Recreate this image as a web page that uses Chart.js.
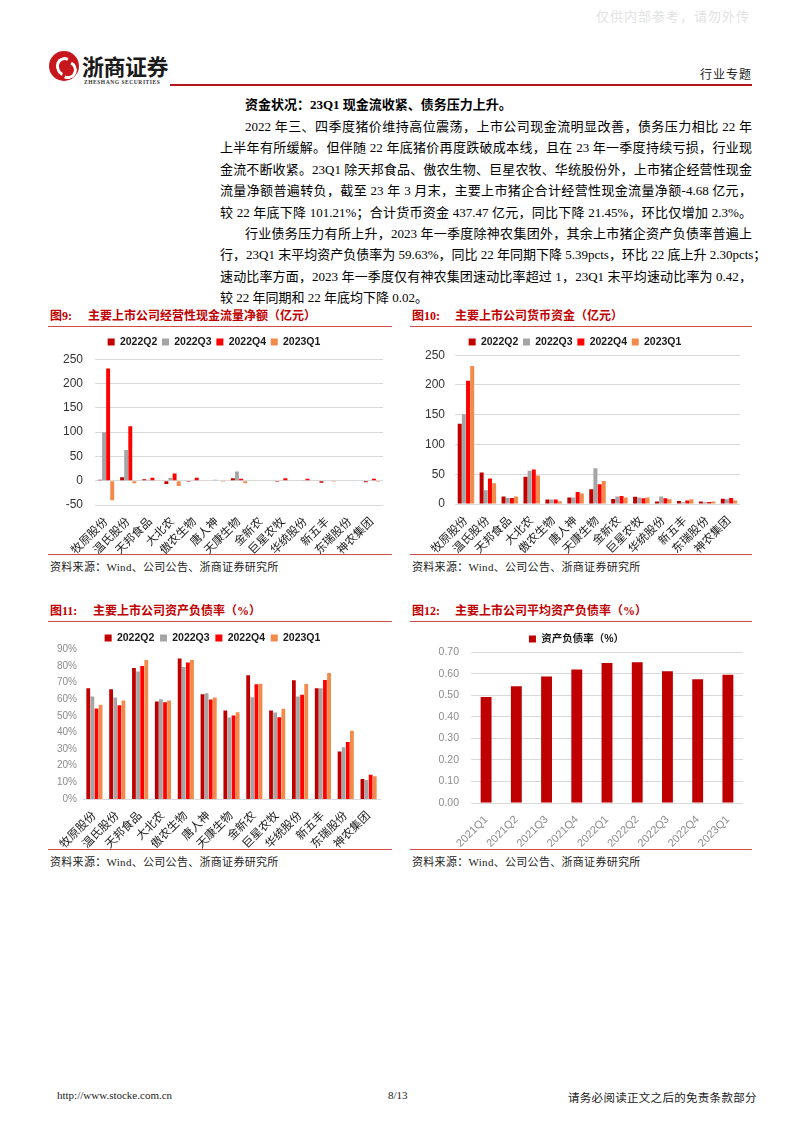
<!DOCTYPE html>
<html>
<head>
<meta charset="utf-8">
<script src="https://cdn.jsdelivr.net/npm/chart.js@4.4.0/dist/chart.umd.min.js"></script>
<style>
  body { margin: 0; background: #fff; }
  #page { position: relative; width: 802px; height: 1133px; overflow: hidden; background: #fff;
    font-family: "Liberation Serif", "Noto Sans CJK SC", serif; color: #000; }
  .abs { position: absolute; }
  .para { position: absolute; left: 220px; width: 532px; font-size: 13px; line-height: 21.4px; }
  .para div { white-space: nowrap; text-align: justify; text-align-last: justify; }
  .para div.last { text-align-last: left; }
  .para div.ind { padding-left: 25px; }
  .ftitle { position: absolute; font-size: 12px; font-weight: bold; color: #c00000; white-space: nowrap;
    font-family: "Liberation Serif", "Noto Sans CJK SC", serif; }
  .rline { position: absolute; height: 1px; background: #d24a4a; }
  .src { position: absolute; font-size: 11px; color: #222; white-space: nowrap; letter-spacing: 0.3px; }
  .box { position: absolute; }
</style>
</head>
<body>
<div id="page">
  <div class="abs" style="left:596px;top:6px;font-size:13px;color:#e2e2e2;letter-spacing:1px;">仅供内部参考，请勿外传</div>

  <!-- logo -->
  <div class="abs" style="left:49px;top:51px;width:30px;height:30px;border-radius:50%;background:#c8161d;"></div>
  <div class="abs" style="left:56px;top:57px;width:12px;height:14px;border:3px solid #fff;border-right-color:transparent;border-bottom-color:transparent;border-radius:50%;transform:rotate(-20deg);"></div>
  <div class="abs" style="left:59px;top:61px;width:12px;height:12px;border:3px solid #fff;border-left-color:transparent;border-top-color:transparent;border-radius:50%;transform:rotate(-20deg);"></div>
  <div class="abs" style="left:82px;top:49px;font-family:'Noto Sans CJK SC';font-weight:bold;font-size:22px;letter-spacing:-0.5px;color:#1a1a1a;">浙商证券</div>
  <div class="abs" style="left:84px;top:79px;font-family:'Liberation Serif';font-weight:bold;font-size:5.5px;letter-spacing:0.55px;color:#333;">ZHESHANG SECURITIES</div>
  <div class="abs" style="left:700px;top:65px;font-size:12px;color:#222;letter-spacing:1px;">行业专题</div>
  <div class="abs" style="left:170px;top:84px;width:582px;height:2px;background:#b8141b;"></div>

  <!-- text -->
  <div class="abs" style="left:245px;top:94px;font-size:13px;font-weight:bold;white-space:nowrap;">资金状况：23Q1 现金流收紧、债务压力上升。</div>
  <div class="para" style="top:116px;">
    <div class="ind">2022 年三、四季度猪价维持高位震荡，上市公司现金流明显改善，债务压力相比 22 年</div>
    <div>上半年有所缓解。但伴随 22 年底猪价再度跌破成本线，且在 23 年一季度持续亏损，行业现</div>
    <div>金流不断收紧。23Q1 除天邦食品、傲农生物、巨星农牧、华统股份外，上市猪企经营性现金</div>
    <div>流量净额普遍转负，截至 23 年 3 月末，主要上市猪企合计经营性现金流量净额-4.68 亿元，</div>
    <div>较 22 年底下降 101.21%；合计货币资金 437.47 亿元，同比下降 21.45%，环比仅增加 2.3%。</div>
    <div class="ind">行业债务压力有所上升，2023 年一季度除神农集团外，其余上市猪企资产负债率普遍上</div>
    <div>行，23Q1 末平均资产负债率为 59.63%，同比 22 年同期下降 5.39pcts，环比 22 底上升 2.30pcts；</div>
    <div>速动比率方面，2023 年一季度仅有神农集团速动比率超过 1，23Q1 末平均速动比率为 0.42，</div>
    <div class="last">较 22 年同期和 22 年底均下降 0.02。</div>
  </div>

  <!-- figure 9 -->
  <div class="ftitle" style="left:50px;top:306px;">图9:</div>
  <div class="ftitle" style="left:88px;top:306px;">主要上市公司经营性现金流量净额（亿元）</div>
  <div class="rline" style="left:48px;top:326px;width:344px;"></div>
  <div class="box" style="left:45px;top:332px;width:345px;height:222px;"><canvas id="c9"></canvas></div>
  <div class="rline" style="left:48px;top:554px;width:344px;"></div>
  <div class="src" style="left:50px;top:558px;">资料来源：Wind、公司公告、浙商证券研究所</div>

  <!-- figure 10 -->
  <div class="ftitle" style="left:412px;top:306px;">图10:</div>
  <div class="ftitle" style="left:455px;top:306px;">主要上市公司货币资金（亿元）</div>
  <div class="rline" style="left:410px;top:326px;width:342px;"></div>
  <div class="box" style="left:410px;top:332px;width:340px;height:222px;"><canvas id="c10"></canvas></div>
  <div class="rline" style="left:410px;top:554px;width:342px;"></div>
  <div class="src" style="left:412px;top:558px;">资料来源：Wind、公司公告、浙商证券研究所</div>

  <!-- figure 11 -->
  <div class="ftitle" style="left:50px;top:601px;">图11:</div>
  <div class="ftitle" style="left:93px;top:601px;">主要上市公司资产负债率（%）</div>
  <div class="rline" style="left:48px;top:621px;width:344px;"></div>
  <div class="box" style="left:45px;top:627px;width:345px;height:222px;"><canvas id="c11"></canvas></div>
  <div class="rline" style="left:48px;top:849px;width:344px;"></div>
  <div class="src" style="left:50px;top:853px;">资料来源：Wind、公司公告、浙商证券研究所</div>

  <!-- figure 12 -->
  <div class="ftitle" style="left:412px;top:601px;">图12:</div>
  <div class="ftitle" style="left:455px;top:601px;">主要上市公司平均资产负债率（%）</div>
  <div class="rline" style="left:410px;top:621px;width:342px;"></div>
  <div class="box" style="left:410px;top:627px;width:340px;height:222px;"><canvas id="c12"></canvas></div>
  <div class="rline" style="left:410px;top:849px;width:342px;"></div>
  <div class="src" style="left:412px;top:853px;">资料来源：Wind、公司公告、浙商证券研究所</div>

  <!-- footer -->
  <div class="abs" style="left:57px;top:1089px;font-size:11px;color:#222;">http://www.stocke.com.cn</div>
  <div class="abs" style="left:388px;top:1089px;font-size:11px;color:#222;">8/13</div>
  <div class="abs" style="left:568px;top:1089px;font-size:11.5px;color:#222;letter-spacing:0.3px;">请务必阅读正文之后的免责条款部分</div>
</div>

<script>
// 公司与季度
const companies = ['牧原股份', '温氏股份', '天邦食品', '大北农', '傲农生物', '唐人神', '天康生物',
  '金新农', '巨星农牧', '华统股份', '新五丰', '东瑞股份', '神农集团'];
const quarters = ['2022Q2', '2022Q3', '2022Q4', '2023Q1'];
const quarterColors = ['#c00000', '#a5a5a5', '#ff0000', '#f28a4a'];

// 图9 经营性现金流量净额（亿元）
const cash22Q2 = [2, 7, 3, -7, -2, 1, 5, 1, -2, -1, -4, -1, -3];
const cash22Q3 = [100, 63, 2, 6, 1, 2, 19, 1, -1, 0.5, -1, -1, -1];
const cash22Q4 = [231, 112, 6, 15, 6, 1, 4, 1, 5, 4, -1, -1, 4];
const cash23Q1 = [-40, -5, 1, -11, 1, -2, -5, -1, 1, 1, -2, -1, -2];

// 图10 货币资金（亿元）
const fund22Q2 = [135, 53, 12.5, 46, 7.4, 11, 25, 8.5, 12, 4, 5, 4, 9];
const fund22Q3 = [151, 23, 10, 56, 7.4, 11, 60, 12.5, 11, 12.5, 3, 3, 8];
const fund22Q4 = [207, 43, 10, 58, 7.4, 20, 33, 13.6, 9.7, 9.7, 5.7, 3.4, 10];
const fund23Q1 = [232, 35, 12.5, 48, 4.5, 17.6, 38.6, 11, 10.8, 8, 8, 4, 5.7];

// 图11 资产负债率（%）
const debt22Q2 = [66.5, 66, 78.7, 58.6, 84.5, 63, 53.2, 74.3, 53.2, 71.3, 66.5, 28.5, 12];
const debt22Q3 = [61.6, 61, 76.7, 60, 79.3, 63.5, 49, 61.2, 52, 61.6, 66.5, 31.1, 11.4];
const debt22Q4 = [54.4, 56.4, 80, 58.2, 82.1, 59.8, 50.2, 68.9, 49.2, 62.7, 71.5, 34.3, 14.5];
const debt23Q1 = [56.6, 59.2, 83.5, 59.2, 83.5, 61, 52.2, 69.3, 54.2, 69.1, 75.7, 41, 13.7];

// 图12 平均资产负债率
const avgQuarters = ['2021Q1', '2021Q2', '2021Q3', '2021Q4', '2022Q1', '2022Q2', '2022Q3', '2022Q4', '2023Q1'];
const avgDebt = [0.492, 0.542, 0.587, 0.620, 0.650, 0.653, 0.612, 0.575, 0.596];

const FONT = '"Liberation Sans", "Noto Sans CJK SC", sans-serif';

// 图例与绘图区之间留空
const legendGap = {
  id: 'legendGap',
  beforeLayout(chart, args, opts) {
    const lg = chart.legend;
    if (lg && !lg._gapPatched) {
      const fit = lg.fit;
      lg.fit = function () { fit.call(this); this.height += opts.gap || 0; };
      lg._gapPatched = true;
    }
  },
};

function groupChart(id, series, cfg) {
  const datasets = series.map((d, i) => ({
    label: quarters[i],
    data: d,
    backgroundColor: quarterColors[i],
    borderWidth: 0,
    categoryPercentage: cfg.cat,
    barPercentage: cfg.bar,
  }));
  return new Chart(document.getElementById(id), {
    type: 'bar',
    data: { labels: companies, datasets },
    plugins: [legendGap],
    options: {
      responsive: true,
      maintainAspectRatio: false,
      animation: false,
      layout: { padding: { left: 0, right: cfg.right, top: 0, bottom: 0 } },
      plugins: {
        legend: {
          labels: {
            boxWidth: 7, boxHeight: 7, padding: cfg.legendPad,
            color: '#1a1a1a', font: { family: FONT, size: 10.5, weight: 'bold' },
          },
        },
        legendGap: { gap: cfg.gap },
        tooltip: { enabled: false },
      },
      scales: {
        x: {
          grid: { display: false },
          border: cfg.xBorder ? { display: true, color: '#d9d9d9' } : { display: false },
          ticks: {
            color: '#1a1a1a', autoSkip: false, minRotation: 45, maxRotation: 45, padding: 2,
            font: { family: FONT, size: 11.5 },
          },
          afterFit: (s) => { s.height = cfg.xh; },
        },
        y: {
          min: cfg.min, max: cfg.max,
          grid: { display: cfg.grid, color: '#d9d9d9', drawTicks: false },
          border: { display: false },
          ticks: {
            stepSize: cfg.step, padding: cfg.tickPad, color: cfg.yColor,
            font: { family: FONT, size: cfg.ySize },
            callback: cfg.fmt,
          },
          afterFit: (s) => { s.width = cfg.yw; },
        },
      },
    },
  });
}

groupChart('c9', [cash22Q2, cash22Q3, cash22Q4, cash23Q1], {
  cat: 0.74, bar: 0.96, right: 7, legendPad: 4.75, gap: 2, xh: 49, yw: 50,
  min: -50, max: 250, step: 50, tickPad: 12, yColor: '#333', ySize: 12, grid: true,
  fmt: (v) => v,
});

groupChart('c10', [fund22Q2, fund22Q3, fund22Q4, fund23Q1], {
  cat: 0.76, bar: 0.96, right: 10, legendPad: 4.75, gap: -2, xh: 50, yw: 45,
  min: 0, max: 250, step: 50, tickPad: 10, yColor: '#333', ySize: 12, grid: true,
  fmt: (v) => v,
});

groupChart('c11', [debt22Q2, debt22Q3, debt22Q4, debt23Q1], {
  cat: 0.72, bar: 0.92, right: 10, legendPad: 5.75, gap: -4, xh: 50, yw: 38,
  min: 0, max: 90, step: 10, tickPad: 6, yColor: '#8c8c8c', ySize: 10, grid: false, xBorder: true,
  fmt: (v) => v + '%',
});

new Chart(document.getElementById('c12'), {
  type: 'bar',
  data: {
    labels: avgQuarters,
    datasets: [{
      label: '资产负债率（%）',
      data: avgDebt,
      backgroundColor: '#c00000',
      borderWidth: 0,
      categoryPercentage: 1,
      barPercentage: 0.36,
    }],
  },
  plugins: [legendGap],
  options: {
    responsive: true,
    maintainAspectRatio: false,
    animation: false,
    layout: { padding: { left: 0, right: 7, top: 0, bottom: 0 } },
    plugins: {
      legend: {
        labels: {
          boxWidth: 7, boxHeight: 7, padding: 6.75,
          color: '#1a1a1a', font: { family: FONT, size: 10.5, weight: 'bold' },
        },
      },
      legendGap: { gap: -2 },
      tooltip: { enabled: false },
    },
    scales: {
      x: {
        grid: { display: false },
        border: { display: false },
        ticks: {
          color: '#8c8c8c', autoSkip: false, minRotation: 45, maxRotation: 45, padding: 2,
          font: { family: FONT, size: 11 },
        },
        afterFit: (s) => { s.height = 46; },
      },
      y: {
        min: 0, max: 0.7,
        grid: { color: '#d9d9d9', drawTicks: false },
        border: { display: false },
        ticks: {
          stepSize: 0.1, padding: 12, color: '#8c8c8c',
          font: { family: FONT, size: 10.5 },
          callback: (v) => Number(v).toFixed(2),
        },
        afterFit: (s) => { s.width = 61; },
      },
    },
  },
});
</script>
</body>
</html>
